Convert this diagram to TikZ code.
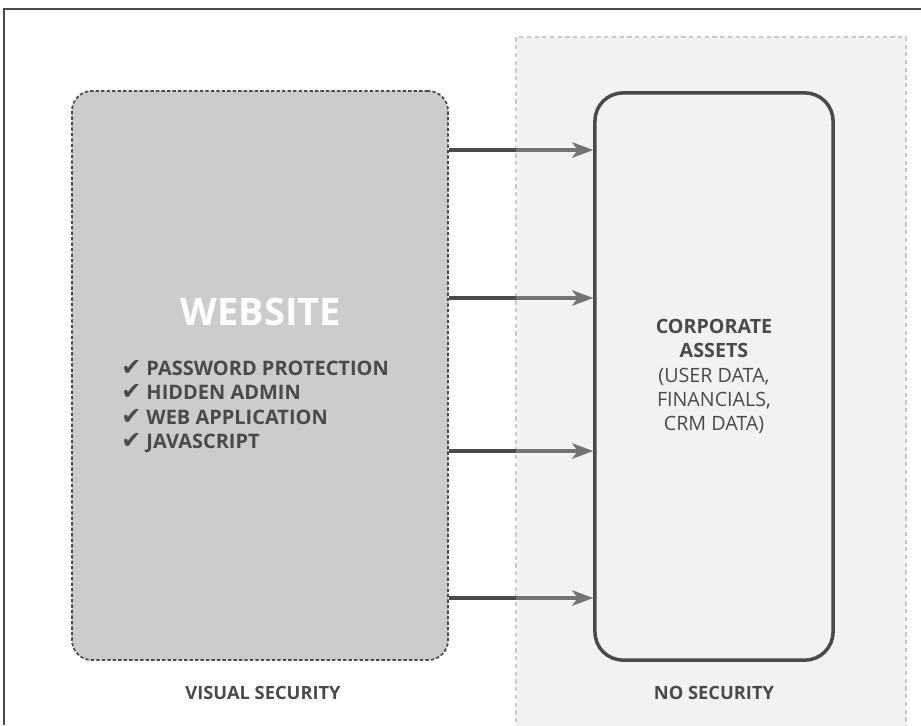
\documentclass[tikz,border=0pt]{standalone}
\usepackage{fontspec}
\setmainfont{Open Sans}
\newfontfamily\symfont{DejaVu Sans}
\usepackage{xcolor}
\definecolor{encre}{HTML}{4A4A4A}
\definecolor{grisbloc}{HTML}{CBCCCD}
\definecolor{voile}{RGB}{208,212,212}
\definecolor{pointille}{HTML}{C8C8C8}
\usetikzlibrary{arrows.meta, positioning, backgrounds}
\newcommand{\coche}{{\symfont\fontsize{17}{17}\selectfont\char"2714}\ }

\begin{document}
\begin{tikzpicture}[
    x=0.025cm, y=-0.025cm,
    site/.style={
        rectangle, rounded corners=0.5cm,
        draw=encre, fill=grisbloc, line width=1.2pt,
        dash pattern=on 2.4pt off 1.5pt,
        minimum width=9.4cm, minimum height=14.225cm
    },
    actifs/.style={
        rectangle, rounded corners=0.7cm,
        draw=encre, line width=2.5pt,
        minimum width=5.95cm, minimum height=14.175cm,
        align=center, text=encre,
        font=\fontsize{14}{17.2}\selectfont
    },
    titre/.style={text=white, font=\bfseries\fontsize{27}{32}\selectfont},
    liste/.style={align=left, text=encre, inner sep=0pt,
        font=\bfseries\fontsize{14.2}{17.4}\selectfont},
    etiquette/.style={text=encre, font=\bfseries\fontsize{13}{16}\selectfont},
    cadre/.style={draw=encre, line width=1.4pt},
    zone/.style={draw=pointille, line width=1pt, dash pattern=on 3pt off 2.5pt},
    lien/.style={-{Stealth[length=15pt, width=11pt, inset=4pt]}, line width=2.3pt, encre}
]
\useasboundingbox (0,0) rectangle (921,725);

\draw[cadre] (4,725) -- (4,9) -- (921,9);

\node[site]   (web)  at (260,375.5) {};
\node[actifs] (corp) at (714,376.5) {\textbf{CORPORATE}\\\textbf{ASSETS}\\(USER DATA,\\FINANCIALS,\\CRM DATA)};

\node[titre] (webtitre) at (261,312) {WEBSITE};
\node[liste, anchor=north west] (webliste) at (121,360) {\coche PASSWORD PROTECTION\\\coche HIDDEN ADMIN\\\coche WEB APPLICATION\\\coche JAVASCRIPT};

\node[etiquette] (visuel) at (263,693) {VISUAL SECURITY};
\node[etiquette] (aucune) at (714,693) {NO SECURITY};

\coordinate (h1) at (0,150);
\coordinate (h2) at (0,298);
\coordinate (h3) at (0,451);
\coordinate (h4) at (0,598);

\begin{scope}[on background layer]
\draw[zone] (516,730) -- (516,37) -- (906,37) -- (906,730);
\draw[lien] (web.east |- h1) -- (corp.west |- h1);
\draw[lien] (web.east |- h2) -- (corp.west |- h2);
\draw[lien] (web.east |- h3) -- (corp.west |- h3);
\draw[lien] (web.east |- h4) -- (corp.west |- h4);
\fill[voile, fill opacity=0.3] (516,37) rectangle (906,730);
\end{scope}
\end{tikzpicture}
\end{document}
